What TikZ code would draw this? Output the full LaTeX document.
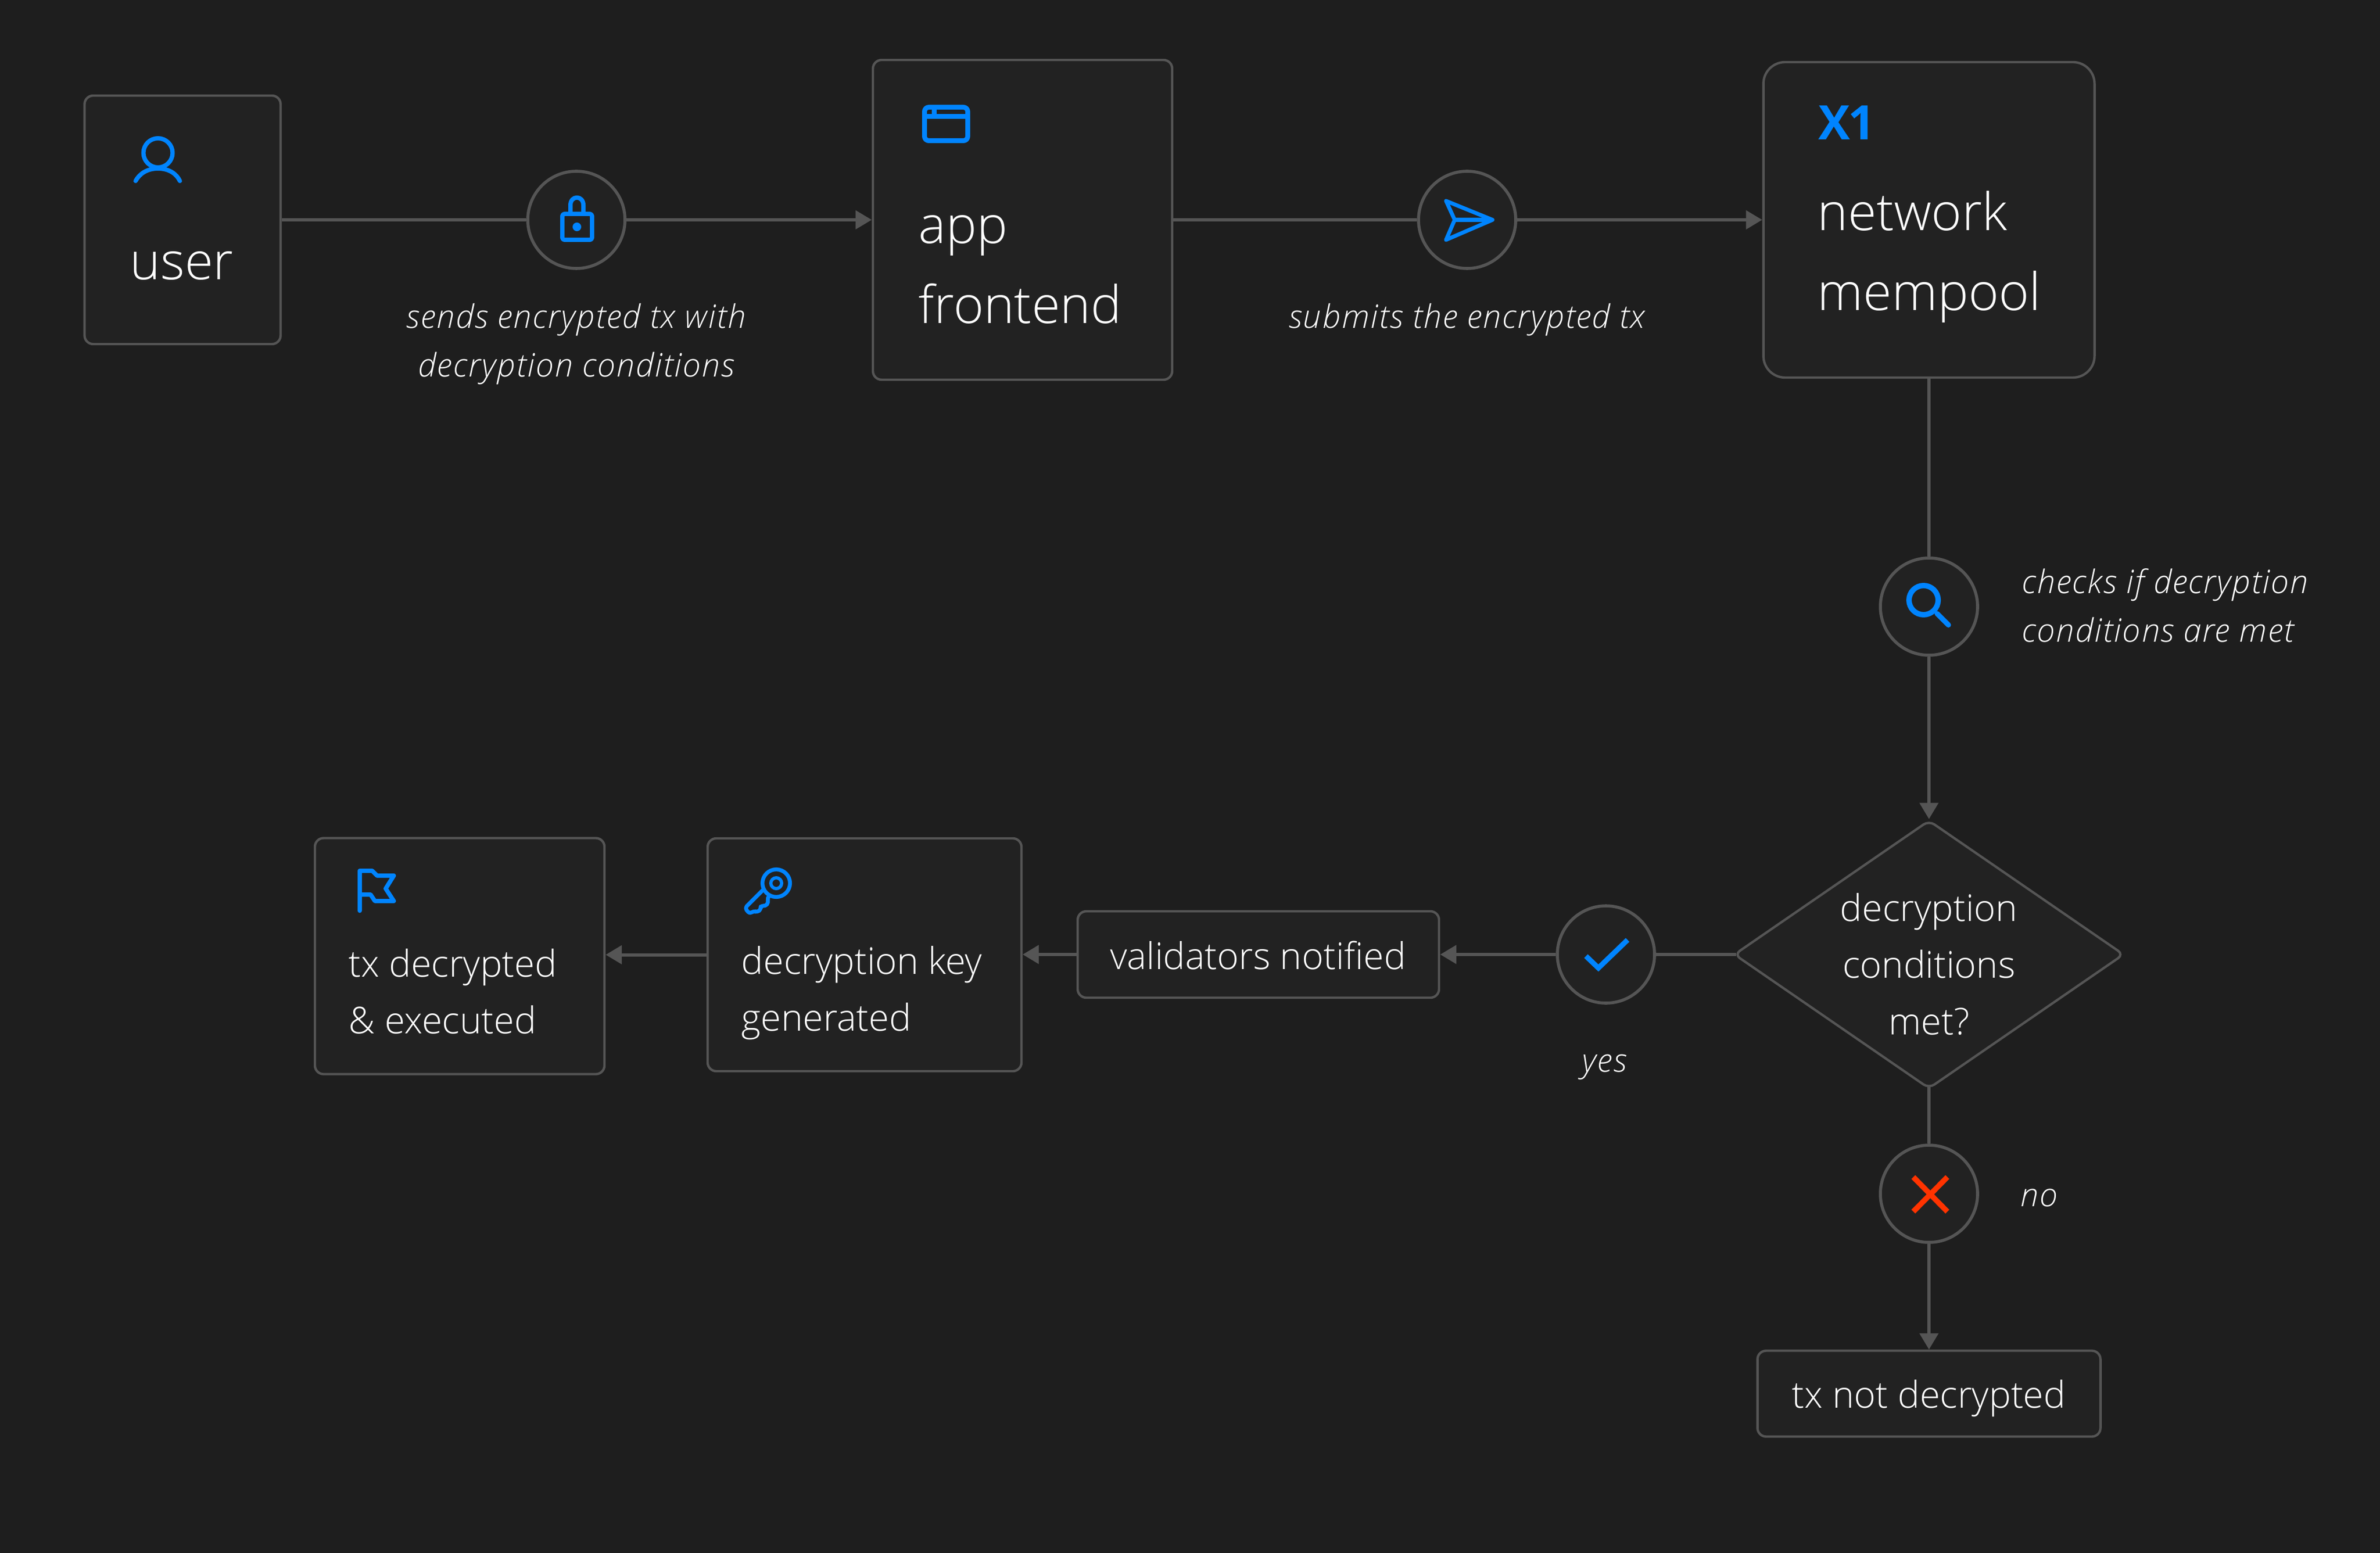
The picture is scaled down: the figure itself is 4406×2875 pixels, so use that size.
\documentclass[tikz,border=0pt]{standalone}
\usepackage{fontspec}
\setmainfont{Open Sans Light}[ItalicFont={Open Sans Light Italic},ItalicFeatures={LetterSpace=3.5},BoldFont={Open Sans Bold}]
\usetikzlibrary{arrows.meta,shapes.geometric}
\definecolor{bgc}{HTML}{1E1E1E}
\definecolor{fillc}{HTML}{222222}
\definecolor{linec}{HTML}{555555}
\definecolor{bluec}{HTML}{0084FF}
\definecolor{redc}{HTML}{FF3300}
\tikzset{
 sz/.style 2 args={minimum width=#1*0.25pt,minimum height=#2*0.25pt},
 boxn/.style={draw=linec,fill=fillc,line width=1.1pt,inner sep=0pt,rounded corners=4pt},
 circn/.style={circle,draw=linec,fill=fillc,line width=1.4pt,inner sep=0pt,minimum size=45pt},
 conn/.style={draw=linec,line width=1.5pt},
 arr/.style={conn,-{Triangle[length=7.5pt,width=8.5pt]}},
 ico/.style={draw=bluec,line width=2pt,line join=round},
 big/.style={text=white,inner sep=0pt,font=\fontsize{24}{37}\selectfont,align=left},
 mid/.style={text=white,inner sep=0pt,font=\fontsize{17.1}{26.2}\selectfont,align=left},
 lab/.style={text=white,inner sep=0pt,font=\fontsize{15}{22.5}\selectfont\itshape},
}
\begin{document}
\begin{tikzpicture}[x=0.25pt,y=-0.25pt]
\path[use as bounding box,fill=bgc] (0,0) rectangle (4406,2875);
% boxes
\node[boxn,sz={363}{460}] (user) at (338,407) {};
\node[boxn,sz={554}{592}] (app) at (1893,407) {};
\node[boxn,sz={613}{584},rounded corners=10pt] (net) at (3571,407) {};
\node[boxn,sz={536}{437}] (flag) at (851,1770) {};
\node[boxn,sz={581}{431}] (keyb) at (1600.5,1767.5) {};
\node[boxn,sz={669}{160}] (valid) at (2329.5,1767) {};
\node[boxn,sz={635}{159}] (notd) at (3571,2580) {};
\node[diamond,draw=linec,fill=fillc,line width=1.1pt,inner sep=0pt,rounded corners=3pt,aspect=1.45,sz={722}{497}] (dec) at (3571,1767) {};
% circles
\node[circn] (lock) at (1067,407) {};
\node[circn] (send) at (2716,407) {};
\node[circn] (srch) at (3571,1123) {};
\node[circn] (chk) at (2973,1767) {};
\node[circn] (nope) at (3571,2210) {};
% connectors
\draw[conn] (user.east) -- (lock.west);
\draw[arr] (lock.east) -- (app.west);
\draw[conn] (app.east) -- (send.west);
\draw[arr] (send.east) -- (net.west);
\draw[conn] (net.south) -- (srch.north);
\draw[arr] (srch.south) -- (dec.north);
\draw[conn,shorten <=-1.5pt] (dec.west) -- (chk.east);
\draw[arr] (chk.west) -- (valid.east);
\draw[arr] (valid.west) -- (keyb.east |- valid.west);
\draw[arr] (keyb.west) -- (flag.east |- keyb.west);
\draw[conn,shorten <=-1.5pt] (dec.south) -- (nope.north);
\draw[arr] (nope.south) -- (notd.north);
% texts
\node[big,anchor=base west] (tuser) at (240,518) {user};
\node[big,anchor=base west] (tapp) at (1700,599) {app\\frontend};
\node[big,anchor=base west] (tnet) at (3364,575) {network\\mempool};
\node[text=bluec,inner sep=0pt,anchor=base west,font=\fontsize{22}{22}\selectfont\bfseries] (xone) at (3366,259) {X\kern-1pt 1};
\node[mid,anchor=base west] (tflag) at (645,1913) {tx decrypted\\\& executed};
\node[mid,anchor=base west] (tkey) at (1372,1908) {decryption key\\generated};
\node[mid,anchor=base] (tval) at (2329,1794) {validators notified};
\node[mid,anchor=base] (tnot) at (3571,2606) {tx not decrypted};
\node[mid,anchor=base,align=center] (tdec) at (3571,1915) {decryption\\conditions\\met?};
\node[lab,anchor=base,align=center] (l1) at (1067,698) {sends encrypted tx with\\decryption conditions};
\node[lab,anchor=base] (l2) at (2716,608) {submits the encrypted tx};
\node[lab,anchor=base west,align=left] (l3) at (3743,1189) {checks if decryption\\conditions are met};
\node[lab,anchor=base] (l4) at (2970,1984) {yes};
\node[lab,anchor=base west] (l5) at (3740,2233) {no};
% icons
\draw[ico] (292.5,283) circle [radius=27];
\draw[ico,line cap=round] (251,335) .. controls (258,322) and (272,312) .. (292.5,312) .. controls (313,312) and (327,322) .. (333,335);
\draw[ico,rounded corners=1pt] (1041,396) rectangle (1096,444);
\draw[ico] (1056,394) -- (1056,380) .. controls (1056,361) and (1080,361) .. (1080,380) -- (1080,394);
\fill[bluec] (1068,420) circle [radius=8];
\draw[ico,line width=2.25pt,rounded corners=2pt] (1711.5,198.5) rectangle (1791.5,260.5);
\draw[ico,line width=2.25pt] (1711.5,216) -- (1791.5,216);
\draw[ico,line width=2.25pt] (1729,198.5) -- (1729,216);
\draw[ico,line width=1.8pt] (2763,407) -- (2677,372) -- (2693,407) -- (2677,444) -- cycle;
\draw[ico,line width=1.8pt] (2693,407) -- (2763,407);
\draw[ico,line width=2.5pt] (3561,1111) circle [radius=27];
\draw[ico,line width=2.4pt,line cap=round] (3586,1136) -- (3607,1157);
\draw[bluec,line width=2.4pt,line join=miter] (2936,1770) -- (2959,1792) -- (3013,1740);
\draw[redc,line width=2.5pt] (3542,2179) -- (3605,2243);
\draw[redc,line width=2.5pt] (3605,2179) -- (3542,2243);
\draw[ico,line cap=round] (666,1686) -- (666,1612) -- (689,1612) -- (698,1621) -- (729,1621) -- (714,1645) -- (729,1668) -- (694,1668) -- (686,1656) -- (666,1656);
\draw[ico,line width=1.8pt] (1437,1635) circle [radius=25.5];
\draw[ico,line width=1.5pt] (1437,1635) circle [radius=10];
\draw[ico,line width=1.8pt,rounded corners=1.2pt] (1413,1647) -- (1379,1681) -- (1388,1692) -- (1395,1686) -- (1402,1689) -- (1409,1683) -- (1408,1676) -- (1417,1678) -- (1423,1670) -- (1420,1662) -- (1425,1658);
\end{tikzpicture}
\end{document}
